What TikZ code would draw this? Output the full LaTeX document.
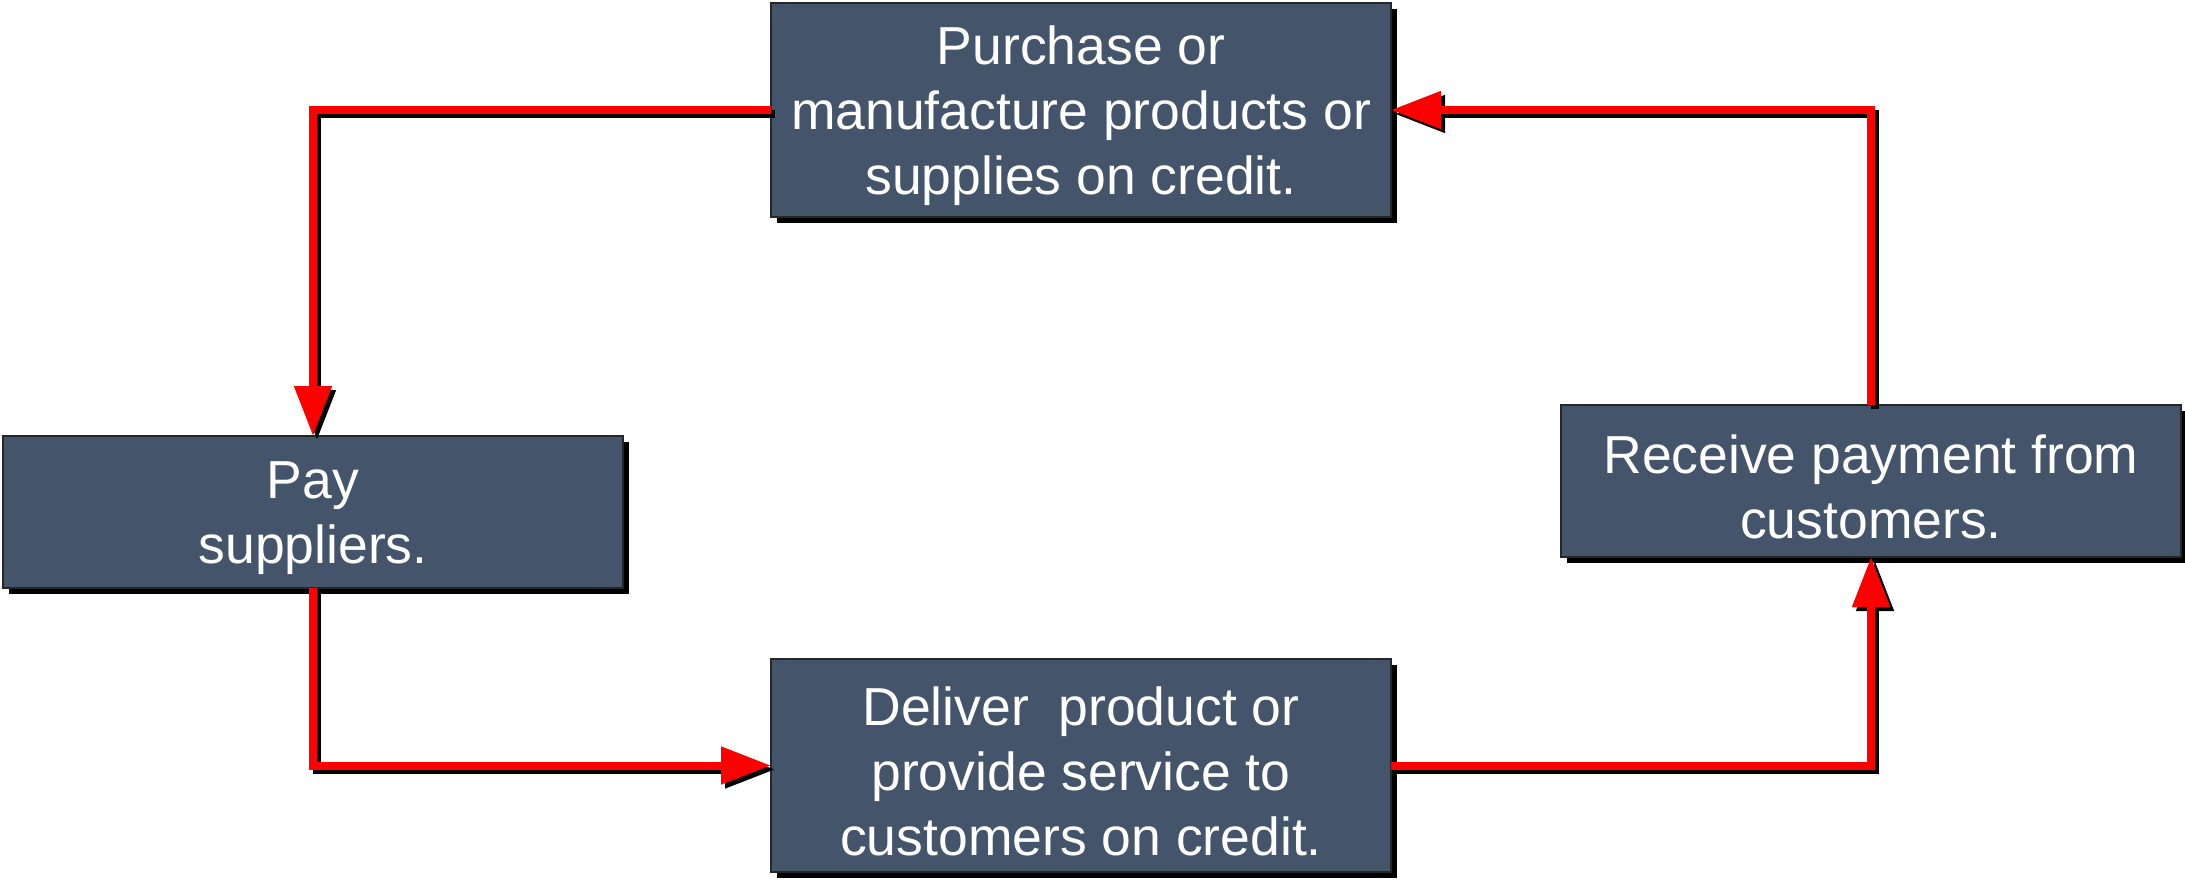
\documentclass[tikz,border=0pt]{standalone}
\usepackage{fontspec}
\setmainfont{Liberation Sans}
\usetikzlibrary{arrows.meta,shadows}
\definecolor{boxfill}{HTML}{44546A}
% taller first line, so the text block sits a little lower in its box
\newcommand{\firstline}{\rule{0pt}{50pt}}
\tikzset{
  stepbox/.style={rectangle, draw=black!85, line width=2pt, fill=boxfill,
    text=white, align=center, minimum width=620pt, outer sep=0pt,
    font=\fontsize{53.5}{65}\selectfont,
    drop shadow={shadow xshift=6pt, shadow yshift=-6pt, fill=black, opacity=1}},
  flow/.style={draw=red, line width=8pt,
    -{Triangle[length=50pt,width=36pt]}},
  flowshade/.style={draw=black, line width=8pt,
    -{Triangle[length=50pt,width=36pt]},
    transform canvas={shift={(4pt,-4pt)}}}
}
\begin{document}
\begin{tikzpicture}[x=1pt,y=-1pt]
\useasboundingbox (0,0) rectangle (2185,880);

% process steps
\node[stepbox, minimum height=214pt] (buy) at (1081,110)
  {\firstline Purchase or\\manufacture products or\\supplies on credit.};
\node[stepbox, minimum height=152pt] (pay) at (313,512)
  {\firstline Pay\\suppliers.};
\node[stepbox, minimum height=152pt] (recv) at (1871,481)
  {\firstline Receive payment from\\customers.};
\node[stepbox, minimum height=213pt] (deliver) at (1081,765.5)
  {\firstline Deliver~ product or\\provide service to\\customers on credit.};

% cycle connectors: black offset copy underneath, red on top
\draw[flowshade] (buy.west) -| (pay.north);
\draw[flowshade] (pay.south) |- (deliver.west);
\draw[flowshade] (deliver.east) -| (recv.south);
\draw[flowshade] (recv.north) |- (buy.east);

\draw[flow] (buy.west) -| (pay.north);
\draw[flow] (pay.south) |- (deliver.west);
\draw[flow] (deliver.east) -| (recv.south);
\draw[flow] (recv.north) |- (buy.east);
\end{tikzpicture}
\end{document}
